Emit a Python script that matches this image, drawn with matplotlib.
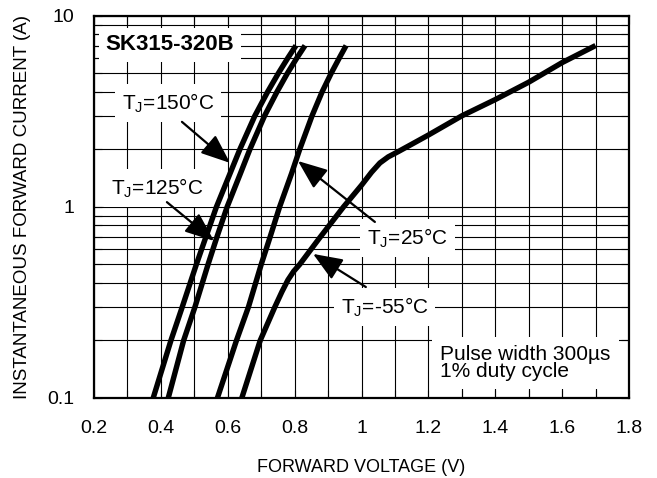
import numpy as np
import matplotlib.pyplot as plt
from matplotlib.ticker import MultipleLocator, LogLocator, NullFormatter

plt.rcParams["font.family"] = ["Liberation Sans", "DejaVu Sans"]
plt.rcParams["mathtext.fontset"] = "custom"
plt.rcParams["mathtext.rm"] = "Liberation Sans"

# forward voltage (V) / current (A)
v_150 = [0.377, 0.430, 0.464, 0.506, 0.535, 0.566, 0.607, 0.636, 0.681, 0.719, 0.751, 0.779, 0.804]
i_150 = [0.1, 0.2, 0.3, 0.5, 0.7, 1.0, 1.5, 2.0, 3.0, 4.0, 5.0, 6.0, 7.0]

v_125 = [0.422, 0.468, 0.502, 0.541, 0.568, 0.598, 0.638, 0.666, 0.710, 0.747, 0.778, 0.806, 0.831]
i_125 = [0.1, 0.2, 0.3, 0.5, 0.7, 1.0, 1.5, 2.0, 3.0, 4.0, 5.0, 6.0, 7.0]

v_25 = [0.569, 0.626, 0.662, 0.700, 0.727, 0.755, 0.791, 0.815, 0.852, 0.882, 0.909, 0.933, 0.954]
i_25 = [0.1, 0.2, 0.3, 0.5, 0.7, 1.0, 1.5, 2.0, 3.0, 4.0, 5.0, 6.0, 7.0]

v_m55 = [0.642, 0.697, 0.741, 0.762, 0.780, 0.797, 0.815, 0.875, 0.946, 1.000, 1.030, 1.055,
         1.080, 1.110, 1.150, 1.200, 1.300, 1.400, 1.500, 1.600, 1.700]
i_m55 = [0.1, 0.2, 0.3, 0.36, 0.415, 0.46, 0.50, 0.69, 1.0, 1.3, 1.52, 1.70,
         1.83, 1.95, 2.13, 2.38, 3.0, 3.65, 4.5, 5.7, 7.0]

x_ticks = [0.2, 0.4, 0.6, 0.8, 1.0, 1.2, 1.4, 1.6, 1.8]
x_labels = ["0.2", "0.4", "0.6", "0.8", "1", "1.2", "1.4", "1.6", "1.8"]
y_ticks = [0.1, 1, 10]
y_labels = ["0.1", "1", "10"]

fig = plt.figure(figsize=(6.57, 4.78), dpi=100)
ax = fig.add_axes([0.1431, 0.1674, 0.8143, 0.7992])

for v, i in [(v_150, i_150), (v_125, i_125), (v_25, i_25), (v_m55, i_m55)]:
    ax.plot(v, i, color="black", lw=3.9, solid_capstyle="butt", solid_joinstyle="round", zorder=3)

ax.set_yscale("log")
ax.set_xlim(0.2, 1.8)
ax.set_ylim(0.1, 10)

ax.set_xticks(x_ticks)
ax.set_xticklabels(x_labels)
ax.xaxis.set_minor_locator(MultipleLocator(0.1))
ax.set_yticks(y_ticks)
ax.set_yticklabels(y_labels)
ax.yaxis.set_minor_locator(LogLocator(base=10, subs=np.arange(2, 10)))
ax.yaxis.set_minor_formatter(NullFormatter())

ax.set_axisbelow(True)
ax.grid(True, which="both", color="black", lw=0.8)
ax.tick_params(which="both", direction="in", top=True, right=True, length=6, width=0.8)
ax.tick_params(axis="x", labelsize=14, pad=16)
ax.tick_params(axis="y", labelsize=14, pad=14)
for s in ax.spines.values():
    s.set_linewidth(1.6)

ax.set_xlabel("FORWARD VOLTAGE (V)", fontsize=13, labelpad=16)
ax.set_ylabel("INSTANTANEOUS FORWARD CURRENT (A)", fontsize=13.5, labelpad=12)

box = dict(facecolor="white", edgecolor="none", pad=5)
arrow = dict(arrowstyle="-|>,head_length=0.5,head_width=0.2", color="black", lw=1.6,
             mutation_scale=36, shrinkA=0, shrinkB=0)

ax.text(0.427, 7.05, "SK315-320B", fontsize=16, fontweight="bold", ha="center", va="center",
        bbox=box, zorder=2)

# labels
ax.text(0.421, 3.50, "T$_\\mathregular{J}$=150°C", fontsize=15, ha="center", va="center",
        bbox=box, zorder=2)
ax.text(0.390, 1.258, "T$_\\mathregular{J}$=125°C", fontsize=15, ha="center", va="center",
        bbox=box, zorder=2)
ax.text(1.137, 0.689, "T$_\\mathregular{J}$=25°C", fontsize=15, ha="center", va="center",
        bbox=box, zorder=2)
ax.text(1.069, 0.300, "T$_\\mathregular{J}$=-55°C", fontsize=15, ha="center", va="center",
        bbox=box, zorder=2)

# arrows
ax.annotate("", xy=(0.607, 1.70), xytext=(0.463, 2.79), arrowprops=arrow, zorder=4)
ax.annotate("", xy=(0.559, 0.664), xytext=(0.418, 1.06), arrowprops=arrow, zorder=4)
ax.annotate("", xy=(0.810, 1.74), xytext=(1.040, 0.835), arrowprops=arrow, zorder=4)
ax.annotate("", xy=(0.855, 0.568), xytext=(1.013, 0.381), arrowprops=arrow, zorder=4)

ax.text(1.235, 0.152, "Pulse width 300\u00b5s\n1% duty cycle", fontsize=15, ha="left", va="center",
        linespacing=0.85, zorder=2,
        bbox=dict(facecolor="white", edgecolor="none", boxstyle="square,pad=0.4"))

fig.savefig("out.png", dpi=100)
